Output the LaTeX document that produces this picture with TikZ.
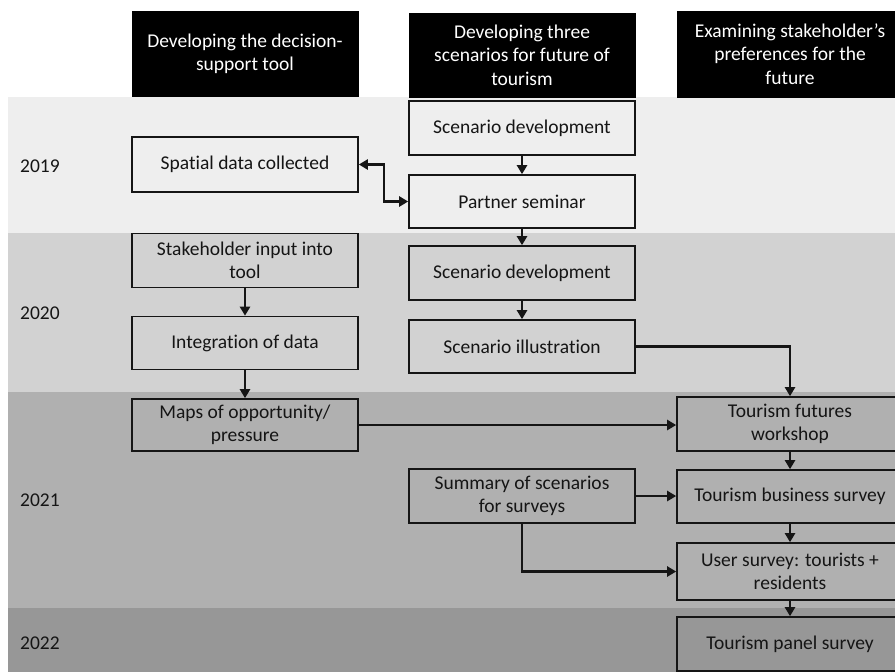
\documentclass[tikz,border=0pt]{standalone}
\usepackage{fontspec}
\setmainfont[Ligatures=NoCommon]{Carlito}
\usetikzlibrary{arrows.meta}
\definecolor{bandA}{HTML}{EEEEEE}
\definecolor{bandB}{HTML}{D2D2D2}
\definecolor{bandC}{HTML}{B0B0B0}
\definecolor{bandD}{HTML}{979797}
\definecolor{ink}{HTML}{151515}
\tikzset{
  box/.style={draw=ink, line width=1.6pt, minimum width=226pt, align=center,
    text=ink, font=\fontsize{19.5}{23.5}\selectfont, inner sep=2pt},
  headbox/.style={fill=black, draw=black, minimum width=226pt, align=center,
    text=white, font=\fontsize{19.5}{23.5}\selectfont, inner sep=2pt},
  yearlbl/.style={anchor=west, text=ink, font=\fontsize{19.5}{23.5}\selectfont, inner sep=0pt},
  conn/.style={draw=ink, line width=2.2pt, -{Triangle[length=9pt,width=10pt]}},
  biconn/.style={draw=ink, line width=2.2pt, {Triangle[length=9pt,width=10pt]}-{Triangle[length=9pt,width=10pt]}},
}
\begin{document}
\begin{tikzpicture}[x=1pt,y=-1pt]
\useasboundingbox (0,0) rectangle (895,672);
\clip (0,0) rectangle (895,672);
% bands
\fill[bandA] (8,97) rectangle (895,233);
\fill[bandB] (8,233) rectangle (895,392);
\fill[bandC] (8,392) rectangle (895,608);
\fill[bandD] (8,608) rectangle (895,672);
% year labels
\node[yearlbl] (y19) at (20,166) {2019};
\node[yearlbl] (y20) at (20,313) {2020};
\node[yearlbl] (y21) at (20,500) {2021};
\node[yearlbl] (y22) at (20,643) {2022};
% headers
\node[headbox, minimum height=85pt] (h1) at (245,54) {Developing the decision-\\support tool};
\node[headbox, minimum height=84pt] (h2) at (522,55) {Developing three\\scenarios for future of\\tourism};
\node[headbox, minimum height=86pt] (h3) at (790,54) {Examining stakeholder’s\\preferences for the\\future};
% boxes
\node[box, minimum height=55pt] (spatial) at (245,164.5) {Spatial data collected};
\node[box, minimum height=54pt] (sd1) at (522,128) {Scenario development};
\node[box, minimum height=53pt] (partner) at (522,201.5) {Partner seminar};
\node[box, minimum height=54pt] (stake) at (245,260.5) {Stakeholder input into\\tool};
\node[box, minimum height=53pt] (integ) at (245,343) {Integration of data};
\node[box, minimum height=54pt] (sd2) at (522,273) {Scenario development};
\node[box, minimum height=53pt] (illus) at (522,346.5) {Scenario illustration};
\node[box, minimum height=52pt] (maps) at (245,425) {Maps of opportunity/\\pressure};
\node[box, minimum height=54pt] (tfw) at (790,424) {Tourism futures\\workshop};
\node[box, minimum height=54pt] (summ) at (522,496) {Summary of scenarios\\for surveys};
\node[box, minimum height=53pt] (tbs) at (790,496.5) {Tourism business survey};
\node[box, minimum height=57pt] (user) at (790,571.5) {User survey: tourists +\\residents};
\node[box, minimum height=54pt] (panel) at (790,644) {Tourism panel survey};
% connectors
\draw[biconn] (spatial.east) -- ++(25,0) |- (partner.west);
\draw[conn] (sd1) -- (partner);
\draw[conn] (partner) -- (sd2);
\draw[conn] (sd2) -- (illus);
\draw[conn] (stake) -- (integ);
\draw[conn] (integ) -- (maps);
\draw[conn] (illus.east) -| (tfw.north);
\draw[conn] (maps.east) -- (maps.east -| tfw.west);
\draw[conn] (tfw) -- (tbs);
\draw[conn] (tbs) -- (user);
\draw[conn] (user) -- (panel);
\draw[conn] (summ.east) -- (summ.east -| tbs.west);
\draw[conn] (summ.south) |- (user.west);
\end{tikzpicture}
\end{document}
